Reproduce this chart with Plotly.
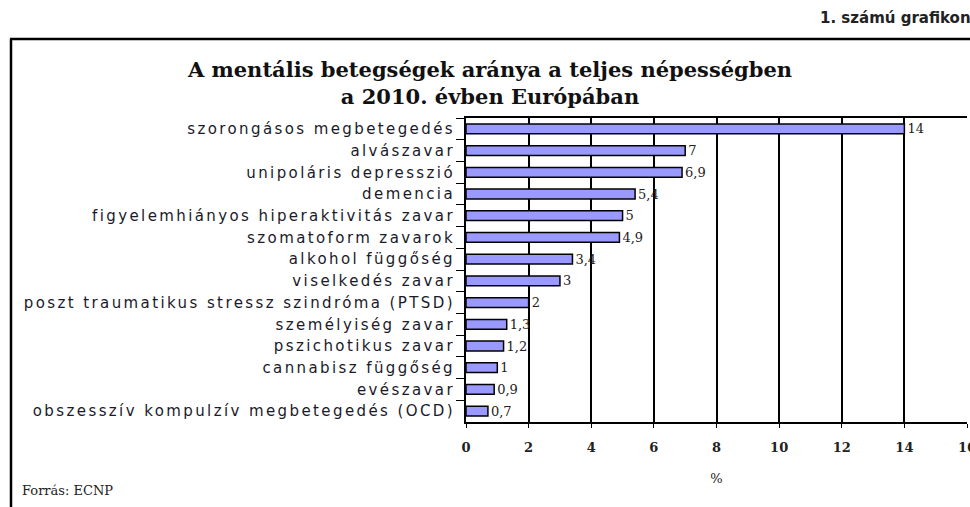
import plotly.graph_objects as go

categories = [
    "szorongásos megbetegedés",
    "alvászavar",
    "unipoláris depresszió",
    "demencia",
    "figyelemhiányos hiperaktivitás zavar",
    "szomatoform zavarok",
    "alkohol függőség",
    "viselkedés zavar",
    "poszt traumatikus stressz szindróma (PTSD)",
    "személyiség zavar",
    "pszichotikus zavar",
    "cannabisz függőség",
    "evészavar",
    "obszesszív kompulzív megbetegedés (OCD)",
]
values = [14, 7, 6.9, 5.4, 5, 4.9, 3.4, 3, 2, 1.3, 1.2, 1, 0.9, 0.7]
x_ticks = [0, 2, 4, 6, 8, 10, 12, 14, 16]

labels = [f"{v:g}".replace(".", ",") for v in values]

W, H = 970, 507
L, R, T, B = 466, 3, 118, 85
pw, ph = W - L - R, H - T - B


def px(x):
    return (x - L) / pw


def py(y):
    return (H - B - y) / ph


fig = go.Figure(
    go.Bar(
        x=values,
        y=categories,
        orientation="h",
        marker=dict(color="#9999FF", line=dict(color="black", width=1.5)),
        width=0.45,
        text=labels,
        textposition="outside",
        constraintext="none",
        textfont=dict(family="DejaVu Serif", size=13, color="#222"),
        cliponaxis=False,
    )
)

fig.update_layout(
    width=W,
    height=H,
    autosize=False,
    margin=dict(l=L, r=R, t=T, b=B, pad=0, autoexpand=False),
    plot_bgcolor="white",
    paper_bgcolor="white",
    showlegend=False,
    title=dict(
        text="A mentális betegségek aránya a teljes népességben<br>a 2010. évben Európában",
        x=490 / W,
        xanchor="center",
        y=1 - 77 / H,
        yanchor="middle",
        font=dict(family="DejaVu Serif", size=21, color="#111", weight="bold"),
    ),
)

fig.update_xaxes(
    range=[0, 16],
    automargin=False,
    tickvals=x_ticks,
    ticktext=[str(t) for t in x_ticks],
    showgrid=True,
    gridcolor="black",
    gridwidth=1.5,
    showline=True,
    linecolor="black",
    linewidth=2,
    mirror=True,
    ticks="outside",
    ticklen=4,
    tickcolor="black",
    tickfont=dict(family="DejaVu Serif", size=13, color="#222", weight="bold"),
    ticklabelstandoff=8,
    ticklabeloverflow="allow",
    zeroline=False,
    title=dict(text="%", font=dict(family="DejaVu Serif", size=13, color="#222"), standoff=20),
)

fig.update_yaxes(
    categoryorder="array",
    categoryarray=categories,
    autorange="reversed",
    automargin=False,
    showline=True,
    linecolor="black",
    linewidth=2,
    mirror=False,
    ticks="outside",
    tickson="boundaries",
    ticklen=8,
    tickcolor="black",
    ticklabelstandoff=6,
    tickfont=dict(family="DejaVu Sans", size=15, color="#1a1a2a"),
    showgrid=False,
)

# outer frame
fig.add_shape(type="line", xref="paper", yref="paper",
              x0=px(10), x1=px(975), y0=py(39), y1=py(39),
              line=dict(color="black", width=2.5))
fig.add_shape(type="line", xref="paper", yref="paper",
              x0=px(11), x1=px(11), y0=py(39), y1=py(520),
              line=dict(color="black", width=2.5))

fig.add_annotation(
    text="1. számú grafikon", xref="paper", yref="paper",
    x=px(818), y=py(18), xanchor="left", yanchor="middle",
    showarrow=False,
    font=dict(family="DejaVu Sans", size=15, color="#222", weight="bold"),
)
fig.add_annotation(
    text="Forrás: ECNP", xref="paper", yref="paper",
    x=px(20), y=py(490), xanchor="left", yanchor="middle",
    showarrow=False,
    font=dict(family="DejaVu Serif", size=13, color="#222"),
)

fig.write_html(
    "out.html",
    config={"displayModeBar": False, "responsive": False},
    post_script=(
        "document.body.style.margin='0px';"
        "document.body.style.overflow='hidden';"
        "document.querySelectorAll('.ytick text').forEach(function(t){t.style.letterSpacing='2.4px';});"
    ),
)
